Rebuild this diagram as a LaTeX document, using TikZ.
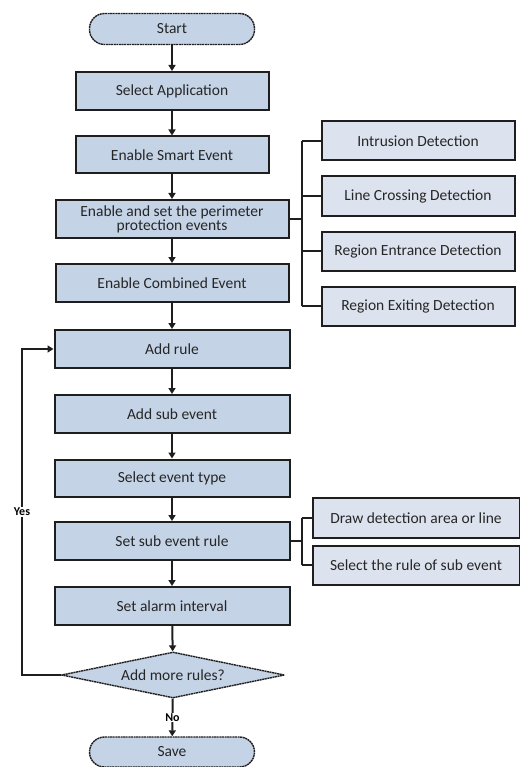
\documentclass[tikz,border=0pt]{standalone}
\usepackage{fontspec}
\setmainfont{Carlito}
\usetikzlibrary{shapes.geometric,arrows.meta}
\definecolor{boxfill}{RGB}{197,211,230}
\definecolor{subfill}{RGB}{221,227,238}
\definecolor{edge}{RGB}{30,30,30}
\begin{document}
\begin{tikzpicture}[x=1pt,y=-1pt,
  font=\fontsize{15.5}{17}\selectfont,
  mainbox/.style={draw=edge,line width=2pt,fill=boxfill,text=black!85,align=center,inner sep=0pt},
  subbox/.style={draw=edge,line width=2pt,fill=subfill,text=black!85,align=center,inner sep=0pt,minimum width=193pt,minimum height=39pt},
  term/.style={draw=edge,line width=1.4pt,dashed,dash pattern=on 2pt off 0.6pt,fill=boxfill,rounded corners=15pt,minimum width=165pt,minimum height=31pt,inner sep=0pt,text=black!85},
  flow/.style={draw=edge,line width=2pt,-{Triangle[length=6pt,width=7pt]}},
  link/.style={draw=edge,line width=2pt}]
\useasboundingbox (0,0) rectangle (519,767);
\node[term] (start) at (172,29) {Start};
\node[mainbox,minimum width=193pt,minimum height=38pt] (app) at (172,91) {Select Application};
\node[mainbox,minimum width=193pt,minimum height=37pt] (smart) at (172,155) {Enable Smart Event};
\node[mainbox,minimum width=233pt,minimum height=38pt] (perim) at (172,219) {Enable and set the perimeter\\[-3pt]protection events};
\node[mainbox,minimum width=233pt,minimum height=38pt] (comb) at (172,283) {Enable Combined Event};
\node[mainbox,minimum width=235pt,minimum height=38pt] (rule) at (172,349) {Add rule};
\node[mainbox,minimum width=235pt,minimum height=38pt] (sub) at (172,414) {Add sub event};
\node[mainbox,minimum width=235pt,minimum height=37pt] (type) at (172,478) {Select event type};
\node[mainbox,minimum width=235pt,minimum height=38pt] (setrule) at (172,541) {Set sub event rule};
\node[mainbox,minimum width=235pt,minimum height=38pt] (alarm) at (172,606) {Set alarm interval};
\node[diamond,draw=edge,line width=1.4pt,dashed,dash pattern=on 2pt off 0.6pt,fill=boxfill,aspect=4.8,minimum width=223pt,minimum height=46pt,inner sep=0pt,text=black!85] (more) at (173,675) {Add more rules?};
\node[term,minimum height=30pt] (save) at (172,752) {Save};
\node[subbox] (intr) at (418,141) {Intrusion Detection};
\node[subbox] (line) at (418,196) {Line Crossing Detection};
\node[subbox] (entr) at (418,251) {Region Entrance Detection};
\node[subbox] (exit) at (418,306) {Region Exiting Detection};
\node[subbox,minimum width=207pt,minimum height=40pt] (draw) at (416,518) {Draw detection area or line};
\node[subbox,minimum width=207pt,minimum height=39pt] (sel) at (416,565) {Select the rule of sub event};
\coordinate (b1) at (302,219);
\coordinate (b2) at (302,541);
\draw[flow] (start) -- (app);
\draw[flow] (app) -- (smart);
\draw[flow] (smart) -- (perim);
\draw[flow] (perim) -- (comb);
\draw[flow] (comb) -- (rule);
\draw[flow] (rule) -- (sub);
\draw[flow] (sub) -- (type);
\draw[flow] (type) -- (setrule);
\draw[flow] (setrule) -- (alarm);
\draw[flow] (alarm) -- (more);
\draw[flow] (more) -- node[fill=white,inner sep=1pt,font=\fontsize{12}{13}\selectfont\bfseries] {No} (save);
\draw[link] (perim.east) -- (b1);
\draw[link] (b1 |- intr.west) -- (intr.west);
\draw[link] (b1 |- line.west) -- (line.west);
\draw[link] (b1 |- entr.west) -- (entr.west);
\draw[link] (b1 |- exit.west) -- (exit.west);
\draw[link] (b1 |- intr.west) -- (b1 |- exit.west);
\draw[link] (setrule.east) -- (b2);
\draw[link] (b2 |- draw.west) -- (draw.west);
\draw[link] (b2 |- sel.west) -- (sel.west);
\draw[link] (b2 |- draw.west) -- (b2 |- sel.west);
\coordinate (yl) at (22,675);
\draw[flow] (more.west) -- (yl) -- node[pos=0.5,fill=white,inner sep=1pt,font=\fontsize{12}{13}\selectfont\bfseries] {Yes} (yl |- rule.west) -- (rule.west);
\end{tikzpicture}
\end{document}
